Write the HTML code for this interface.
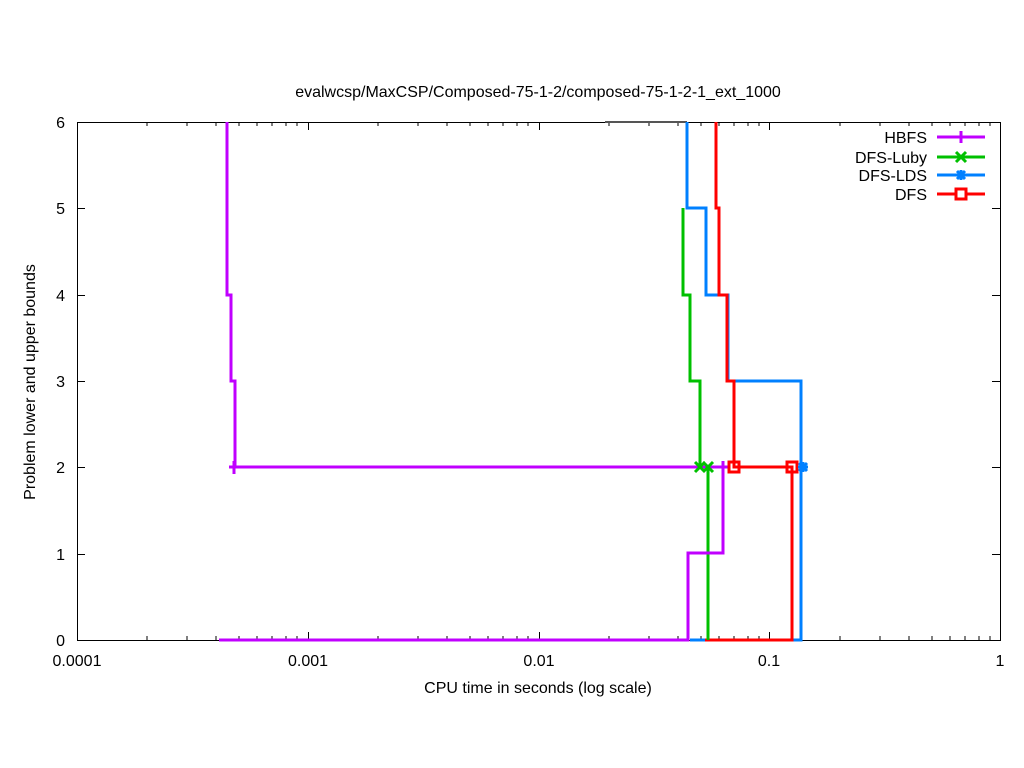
<!DOCTYPE html>
<html><head><style>body{margin:0;background:#fff}svg{display:block}text{font-family:"Liberation Sans",sans-serif;font-size:16px;fill:#000}</style></head><body>
<svg width="1024" height="768" viewBox="0 0 1024 768">
<rect width="1024" height="768" fill="#fff"/>
<text x="538" y="97" text-anchor="middle">evalwcsp/MaxCSP/Composed-75-1-2/composed-75-1-2-1_ext_1000</text>
<g stroke="#000" stroke-width="1" fill="none">
<rect x="77.5" y="122.5" width="923" height="518"/>
<path d="M77 122.5h8M1000 122.5h-8M77 208.5h8M1000 208.5h-8M77 295.5h8M1000 295.5h-8M77 381.5h8M1000 381.5h-8M77 467.5h8M1000 467.5h-8M77 554.5h8M1000 554.5h-8"/>
<path d="M77.5 640v-8M308.5 640v-8M539.5 640v-8M769.5 640v-8M77.5 122v8M308.5 122v8M539.5 122v8M769.5 122v8"/>
<path d="M147 640v-4M187 640v-4M216 640v-4M239 640v-4M257 640v-4M272 640v-4M286 640v-4M297 640v-4M378 640v-4M418 640v-4M447 640v-4M470 640v-4M488 640v-4M503 640v-4M517 640v-4M528 640v-4M609 640v-4M649 640v-4M678 640v-4M701 640v-4M719 640v-4M734 640v-4M748 640v-4M759 640v-4M840 640v-4M880 640v-4M909 640v-4M932 640v-4M950 640v-4M965 640v-4M979 640v-4M990 640v-4"/>
<path d="M147 122v4M187 122v4M216 122v4M239 122v4M257 122v4M272 122v4M286 122v4M297 122v4M378 122v4M418 122v4M447 122v4M470 122v4M488 122v4M503 122v4M517 122v4M528 122v4M609 122v4M649 122v4M678 122v4M701 122v4M719 122v4M734 122v4M748 122v4M759 122v4M840 122v4M880 122v4M909 122v4M932 122v4M950 122v4M965 122v4M979 122v4M990 122v4"/>
</g>
<g text-anchor="end"><text x="65" y="128">6</text><text x="65" y="214">5</text><text x="65" y="301">4</text><text x="65" y="387">3</text><text x="65" y="473">2</text><text x="65" y="560">1</text><text x="65" y="646">0</text></g>
<g text-anchor="middle"><text x="77" y="666">0.0001</text><text x="308" y="666">0.001</text><text x="539" y="666">0.01</text><text x="769" y="666">0.1</text><text x="1000" y="666">1</text>
<text x="538" y="693">CPU time in seconds (log scale)</text></g>
<text transform="translate(35,382) rotate(-90)" text-anchor="middle">Problem lower and upper bounds</text>
<g fill="none" stroke-width="3">
<path stroke="#555" stroke-width="2" d="M605 122H687"/>
<path stroke="#0080ff" d="M687 122V208H706V295H728V381H801V640H690"/>
<path stroke="#ff0000" d="M716 122V208H719V295H727V381H734V467H792V640H705"/>
<path stroke="#00c000" d="M683 208V295H690V381H700V467H708V640"/>
<path stroke="#c000ff" d="M227 122V295H231V381H235V467H723V553H688V640H219"/>
</g>
<g stroke-width="3" fill="none">
<path stroke="#c000ff" d="M229 467h10M234 461v13M717 467h12M723 461v12"/>
<path stroke="#00c000" d="M695 462l10 10M705 462l-10 10M703 462l10 10M713 462l-10 10"/>
<path stroke="#ff0000" d="M729 462h10v10h-10zM787 462h10v10h-10z"/>
<path stroke="#0080ff" d="M798 467h10M803 462v10M799 463l8 8M807 463l-8 8"/>
</g>
<g text-anchor="end"><text x="927" y="143">HBFS</text><text x="927" y="163">DFS-Luby</text><text x="927" y="181">DFS-LDS</text><text x="927" y="200">DFS</text></g>
<g stroke-width="3" fill="none">
<path stroke="#c000ff" d="M937 137h48"/><path stroke="#c000ff" d="M961 131v12"/>
<path stroke="#00c000" d="M937 157h48"/><path stroke="#00c000" d="M956 152l10 10M966 152l-10 10"/>
<path stroke="#0080ff" d="M937 175h48"/><path stroke="#0080ff" d="M956 175h10M961 170v10M957 171l8 8M965 171l-8 8"/>
<path stroke="#ff0000" d="M937 194h48"/><path stroke="#ff0000" d="M956 189h10v10h-10z" fill="#fff"/>
</g>
</svg>
</body></html>
